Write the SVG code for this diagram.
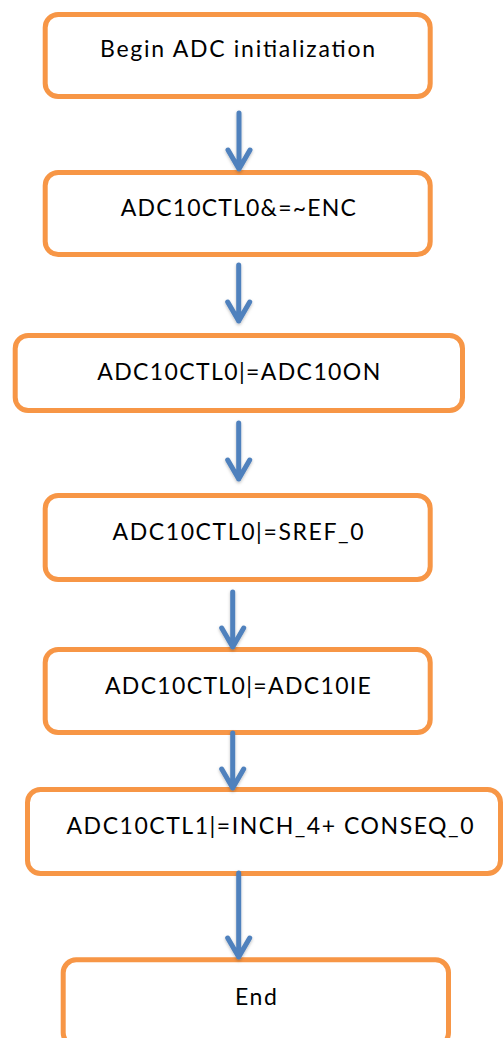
<svg xmlns="http://www.w3.org/2000/svg" width="503" height="1038" viewBox="0 0 503 1038">
  <defs>
    <style>
      .box { fill: #FFFFFF; stroke: #F79646; stroke-width: 5; }
      .label { font-family: Lato, "Open Sans", "Liberation Sans", sans-serif; font-size: 23px; fill: #000000; text-anchor: middle; }
      .flow { fill: none; stroke: #4F81BD; stroke-width: 5; stroke-linecap: round; stroke-linejoin: round; }
    </style>
    <filter id="soft" x="-50%" y="-20%" width="200%" height="140%">
      <feDropShadow dx="0" dy="1.5" stdDeviation="1.5" flood-color="#000000" flood-opacity="0.25"/>
    </filter>
  </defs>
  <rect width="503" height="1038" fill="#FFFFFF"/>

  <!-- process steps -->
  <g id="begin">
    <rect class="box" x="45.2" y="14.5" width="385" height="82" rx="13"/>
    <text class="label" x="237.5" y="57" textLength="275" lengthAdjust="spacing">Begin ADC initialization</text>
  </g>
  <g id="clear-enc">
    <rect class="box" x="45.2" y="172.5" width="385" height="82" rx="13"/>
    <text class="label" x="238.3" y="216" textLength="235" lengthAdjust="spacing">ADC10CTL0&amp;=~ENC</text>
  </g>
  <g id="adc-on">
    <rect class="box" x="15.2" y="335.5" width="447.3" height="75" rx="13"/>
    <text class="label" x="238.7" y="380" textLength="283" lengthAdjust="spacing">ADC10CTL0|=ADC10ON</text>
  </g>
  <g id="sref">
    <rect class="box" x="45.2" y="495.5" width="385" height="84" rx="13"/>
    <text class="label" x="238" y="540" textLength="251" lengthAdjust="spacing">ADC10CTL0|=SREF_0</text>
  </g>
  <g id="interrupt">
    <rect class="box" x="45.2" y="649.5" width="385" height="83" rx="13"/>
    <text class="label" x="237.9" y="694" textLength="266" lengthAdjust="spacing">ADC10CTL0|=ADC10IE</text>
  </g>
  <g id="channel">
    <rect class="box" x="27.5" y="789.5" width="473" height="84" rx="13"/>
    <text class="label" x="270" y="834" textLength="407" lengthAdjust="spacing">ADC10CTL1|=INCH_4+ CONSEQ_0</text>
  </g>
  <g id="end">
    <rect class="box" x="63.2" y="959.8" width="385.3" height="86" rx="13"/>
    <text class="label" x="256" y="1005" textLength="42" lengthAdjust="spacing">End</text>
  </g>

  <!-- connectors -->
  <g id="connectors" filter="url(#soft)">
    <path class="flow" d="M239 113 V169 M228 150 L239 169 L250 150"/>
    <path class="flow" d="M238.7 265 V321 M227.7 302 L238.7 321 L249.7 302"/>
    <path class="flow" d="M238.7 423 V479 M227.7 460 L238.7 479 L249.7 460"/>
    <path class="flow" d="M232.7 592 V647 M221.7 628 L232.7 647 L243.7 628"/>
    <path class="flow" d="M232.7 733 V788 M221.7 769 L232.7 788 L243.7 769"/>
    <path class="flow" d="M238.7 873 V957 M227.7 938 L238.7 957 L249.7 938"/>
  </g>
</svg>
